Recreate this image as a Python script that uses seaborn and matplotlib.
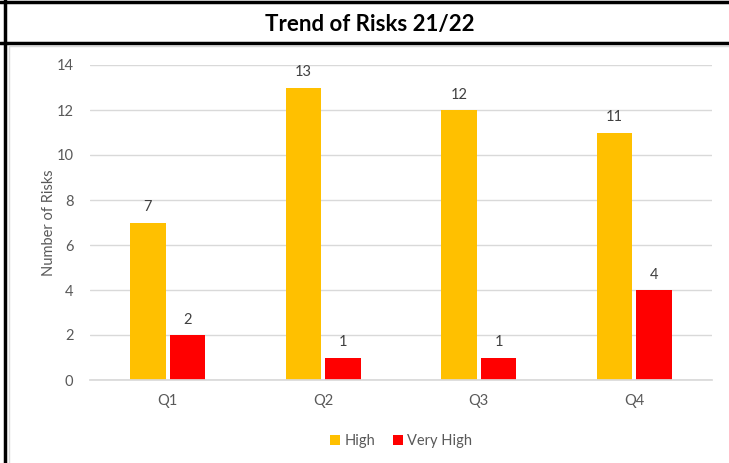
import matplotlib
matplotlib.use("Agg")
import matplotlib.pyplot as plt
import seaborn as sns
import pandas as pd
from matplotlib.lines import Line2D

quarters = ["Q1", "Q2", "Q3", "Q4"]
high = [7, 13, 12, 11]
very_high = [2, 1, 1, 4]
series_names = ["High", "Very High"]
colors = ["#FFC000", "#FF0000"]

df = pd.DataFrame({
    "Quarter": quarters * 2,
    "Risks": high + very_high,
    "Level": [series_names[0]] * 4 + [series_names[1]] * 4,
})

sns.set_theme(style="white")
plt.rcParams['font.family'] = ['Lato', 'DejaVu Sans']

W, H = 729, 463
fig = plt.figure(figsize=(W / 100, H / 100), dpi=100)
ax = fig.add_axes([90 / W, 1 - 380 / H, (712 - 90) / W, (380 - 65) / H])

sns.barplot(data=df, x="Quarter", y="Risks", hue="Level", palette=colors,
            width=0.51, gap=0.11, saturation=1, linewidth=0, edgecolor="none",
            ax=ax, legend=True)

ax.set_ylim(0, 14)
ax.set_yticks(range(0, 15, 2))
ax.set_xlim(-0.5, 3.5)
ax.grid(axis="y", color="#D9D9D9", linewidth=1)
ax.set_axisbelow(True)
for s in ["top", "right", "left"]:
    ax.spines[s].set_visible(False)
ax.spines["bottom"].set_color("#D9D9D9")
ax.tick_params(axis="both", colors="#595959", labelsize=10.5, length=0, pad=12)
ax.tick_params(axis="x", pad=10)
ax.set_xlabel("")
ax.set_ylabel("Number of Risks", color="#595959", fontsize=10.5, labelpad=0)

for cont in ax.containers:
    ax.bar_label(cont, padding=6, color="#404040", fontsize=10.5)

handles, labels = ax.get_legend_handles_labels()
ax.legend(handles, labels, loc="upper center", bbox_to_anchor=(0.5, -0.13),
          ncol=2, frameon=False, fontsize=10.5, handlelength=0.7, handleheight=0.7,
          handletextpad=0.3, columnspacing=1.2, labelcolor="#595959")

# Title bar and borders
fig.text(370 / W, 1 - 24 / H, "Trend of Risks 21/22", ha="center", va="center",
         fontsize=16, fontweight="bold", color="black")
fig.add_artist(Line2D([0, 1], [1 - 1.5 / H, 1 - 1.5 / H], color="black", linewidth=2.5))
fig.add_artist(Line2D([4.5 / W, 4.5 / W], [0, 1], color="black", linewidth=2.5))
fig.add_artist(Line2D([0, 1], [1 - 42.5 / H, 1 - 42.5 / H], color="black", linewidth=2.5))
fig.add_artist(Line2D([9 / W, 1], [1 - 46 / H, 1 - 46 / H], color="#D9D9D9", linewidth=1))
fig.add_artist(Line2D([9 / W, 9 / W], [0, 1 - 46 / H], color="#D9D9D9", linewidth=1))

fig.savefig("out.png", dpi=100, facecolor="white")
